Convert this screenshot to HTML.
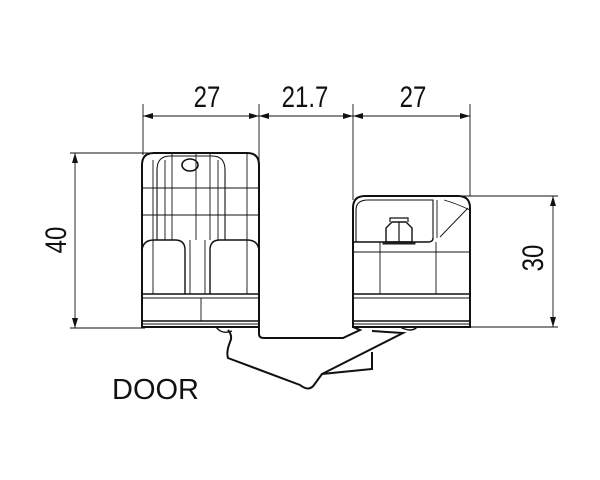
<!DOCTYPE html>
<html><head><meta charset="utf-8"><style>
html,body{margin:0;padding:0;background:#fff;}
svg{display:block;}
text{font-family:"Liberation Sans",sans-serif;fill:#111;}
</style></head><body>
<svg width="600" height="480" viewBox="0 0 600 480" xmlns="http://www.w3.org/2000/svg">
<defs>
<marker id="a" viewBox="0 0 10 6" refX="10" refY="3" markerWidth="10" markerHeight="6" orient="auto-start-reverse" markerUnits="userSpaceOnUse"><path d="M0,0 L10,3 L0,6 Z" fill="#111"/></marker>
</defs>
<g stroke="#111" stroke-width="0.9" fill="none">
<line x1="143" y1="104" x2="143" y2="155"/>
<line x1="259" y1="104" x2="259" y2="200"/>
<line x1="353" y1="104" x2="353" y2="200"/>
<line x1="470" y1="104" x2="470" y2="196"/>
<line x1="143" y1="116" x2="259" y2="116" marker-start="url(#a)" marker-end="url(#a)"/>
<line x1="259" y1="116" x2="353" y2="116" marker-start="url(#a)" marker-end="url(#a)"/>
<line x1="353" y1="116" x2="470" y2="116" marker-start="url(#a)" marker-end="url(#a)"/>
<line x1="70" y1="153" x2="150" y2="153"/>
<line x1="70" y1="328" x2="145" y2="328"/>
<line x1="75" y1="153" x2="75" y2="328" marker-start="url(#a)" marker-end="url(#a)"/>
<line x1="462" y1="196" x2="558" y2="196"/>
<line x1="470" y1="327" x2="558" y2="327"/>
<line x1="553" y1="196" x2="553" y2="327" marker-start="url(#a)" marker-end="url(#a)"/>
</g>
<g font-size="30">
<text x="207" y="107" text-anchor="middle" transform="translate(207 0) scale(0.8 1) translate(-207 0)">27</text>
<text x="305" y="107" text-anchor="middle" transform="translate(305 0) scale(0.8 1) translate(-305 0)">21.7</text>
<text x="413" y="107" text-anchor="middle" transform="translate(413 0) scale(0.8 1) translate(-413 0)">27</text>
<text x="0" y="0" text-anchor="middle" transform="translate(66 240) rotate(-90) scale(0.8 1)">40</text>
<text x="0" y="0" text-anchor="middle" transform="translate(543 258) rotate(-90) scale(0.8 1)">30</text>
</g>
<text x="112" y="399" font-size="29">DOOR</text>
<g stroke="#111" fill="none" stroke-width="0.9">
<path d="M142,165 Q142,153 154,153 L247,153 Q259,153 259,165 L259,327 L142,327 Z" stroke-width="2"/>
<path d="M157,240 L157,170 Q157,156 170,156 L212,156 Q225,156 225,170 L225,240" stroke-width="1.1"/>
<path d="M165,240 L165,160 M218,240 L218,160"/>
<path d="M172,153 L172,240 M210,153 L210,240 M196,153 L196,240"/>
<path d="M142,188 L259,188 M142,215 L259,215 M247,153 L247,294 M153,160 L153,294"/>
<ellipse cx="190" cy="165" rx="8" ry="6" stroke-width="1.6"/>
<path d="M142,252 Q142,240 154,240 L175,240 Q185,240 185,250 L185,294 M210,294 L210,250 Q210,240 220,240 L247,240 Q259,240 259,252" stroke-width="1.4"/>
<path d="M190,240 L190,294 M205,240 L205,294"/>
<line x1="142" y1="294" x2="259" y2="294" stroke-width="1.6"/>
<line x1="142" y1="298" x2="259" y2="298"/>
<line x1="142" y1="321" x2="259" y2="321" stroke-width="1.4"/>
<line x1="142" y1="324" x2="259" y2="324"/>
<line x1="201" y1="298" x2="201" y2="321"/>
<path d="M353,208 Q353,196 365,196 L458,196 Q470,196 470,208 L470,327 L353,327 Z" stroke-width="2"/>
<path d="M356,242 L356,210 Q356,200 368,200 L433,200 L433,238" stroke-width="1.1"/>
<path d="M433,238 Q433,242 428,242 L353,242" stroke-width="1.4"/>
<path d="M437,200 L437,238 M440,237 L468,208 M444,200 Q455,203 470,210"/>
<path d="M380,242 L380,294 M436,242 L436,294 M353,252 L470,252"/>
<path d="M383,242 L415,242 L415,244 L383,244 Z" fill="#333"/>
<path d="M386,242 L386,228 L392,222 L406,222 L412,228 L412,242 Z" stroke-width="1.4"/>
<path d="M399,222 L399,242 M390,222 L390,218 L408,218 L408,222" stroke-width="1.2"/>
<line x1="353" y1="294" x2="470" y2="294" stroke-width="1.6"/>
<line x1="353" y1="298" x2="470" y2="298"/>
<line x1="353" y1="321" x2="470" y2="321" stroke-width="1.4"/>
<line x1="353" y1="324" x2="470" y2="324"/>
<path d="M259,327 L259,334 Q259,338 264,338 L343,338 L360,330 L353,327" stroke-width="2"/>
<path d="M228,330 Q233,336 230,342 Q226,352 228,358 L300,385 Q309,392 314,385 L322,374 L372,369 L372,352" stroke-width="2"/>
<path d="M322,374 L403,333 L372,331" stroke-width="2"/>
<path d="M216,327 Q222,335 232,331 M400,327 Q412,333 417,327" stroke-width="1.4"/>
</g>
</svg>
</body></html>
